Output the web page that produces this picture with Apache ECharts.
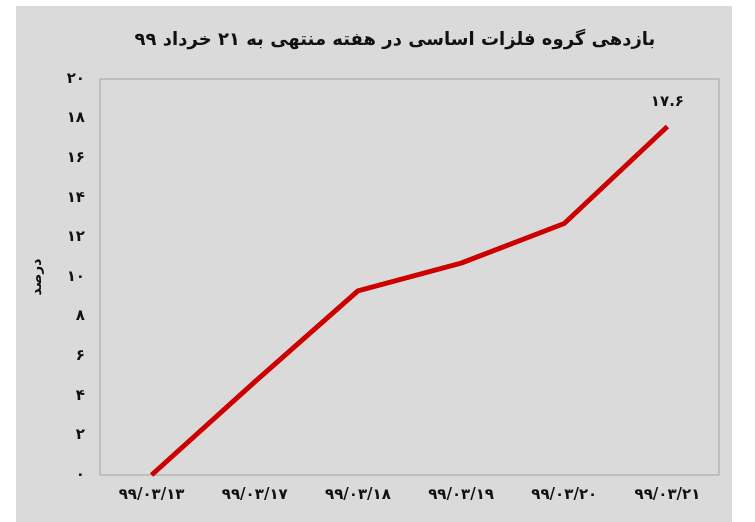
<!DOCTYPE html>
<html>
<head>
<meta charset="utf-8">
<script src="https://cdn.jsdelivr.net/npm/echarts@6/dist/echarts.min.js"></script>
<style>
html,body{margin:0;padding:0;background:#fff;}
#c{width:755px;height:522px;}
</style>
</head>
<body>
<div id="c"></div>
<script>
var titleText = 'بازدهی گروه فلزات اساسی در هفته منتهی به ۲۱ خرداد ۹۹';
var yAxisName = 'درصد';
var categories = ['۹۹/۰۳/۱۳', '۹۹/۰۳/۱۷', '۹۹/۰۳/۱۸', '۹۹/۰۳/۱۹', '۹۹/۰۳/۲۰', '۹۹/۰۳/۲۱'];
var values = [0, 4.7, 9.3, 10.7, 12.7, 17.6];
var labelledIndex = 5;
var yMin = 0, yMax = 20, yInterval = 2;

var persianDigits = ['۰','۱','۲','۳','۴','۵','۶','۷','۸','۹'];
function toFa(v) {
  return String(v).replace(/[0-9]/g, function (d) { return persianDigits[+d]; });
}

var FONT = '"DejaVu Sans", sans-serif';
var chart = echarts.init(document.getElementById('c'), null, {renderer: 'canvas'});
chart.setOption({
  animation: false,
  backgroundColor: '#ffffff',
  graphic: [{
    type: 'rect', z: -10, silent: true,
    shape: {x: 16, y: 6, width: 716, height: 520},
    style: {fill: '#dadada'}
  }],
  title: {
    text: titleText,
    left: 390,
    textAlign: 'center',
    top: 26,
    textStyle: {fontFamily: FONT, fontWeight: 'bold', fontSize: 18, color: '#111'}
  },
  grid: {
    left: 100, top: 79, right: 36, bottom: 47,
    show: true, backgroundColor: 'transparent',
    borderColor: '#a3a3a3', borderWidth: 1
  },
  xAxis: {
    type: 'category',
    data: categories,
    boundaryGap: true,
    axisLine: {show: false},
    axisTick: {show: false},
    axisLabel: {margin: 13, fontFamily: FONT, fontWeight: 'bold', fontSize: 15, color: '#111'}
  },
  yAxis: {
    type: 'value',
    min: yMin, max: yMax, interval: yInterval,
    name: yAxisName,
    nameLocation: 'middle',
    nameRotate: 90,
    nameGap: 56,
    nameTextStyle: {fontFamily: FONT, fontWeight: 'bold', fontSize: 14, color: '#111'},
    axisLine: {show: false},
    axisTick: {show: false},
    splitLine: {show: false},
    axisLabel: {
      margin: 15, fontFamily: FONT, fontWeight: 'bold', fontSize: 15, color: '#111',
      formatter: function (v) { return toFa(v); }
    }
  },
  series: [{
    type: 'line',
    data: values.map(function (v, i) {
      return i === labelledIndex ? {value: v, label: {show: true}} : v;
    }),
    symbol: 'circle',
    symbolSize: 0,
    showSymbol: true,
    itemStyle: {color: '#cc0000'},
    lineStyle: {color: '#cc0000', width: 5},
    label: {
      show: false, position: 'top', distance: 17,
      fontFamily: FONT, fontWeight: 'bold', fontSize: 15, color: '#111',
      formatter: function (p) { return toFa(p.value); }
    }
  }]
});
</script>
</body>
</html>
